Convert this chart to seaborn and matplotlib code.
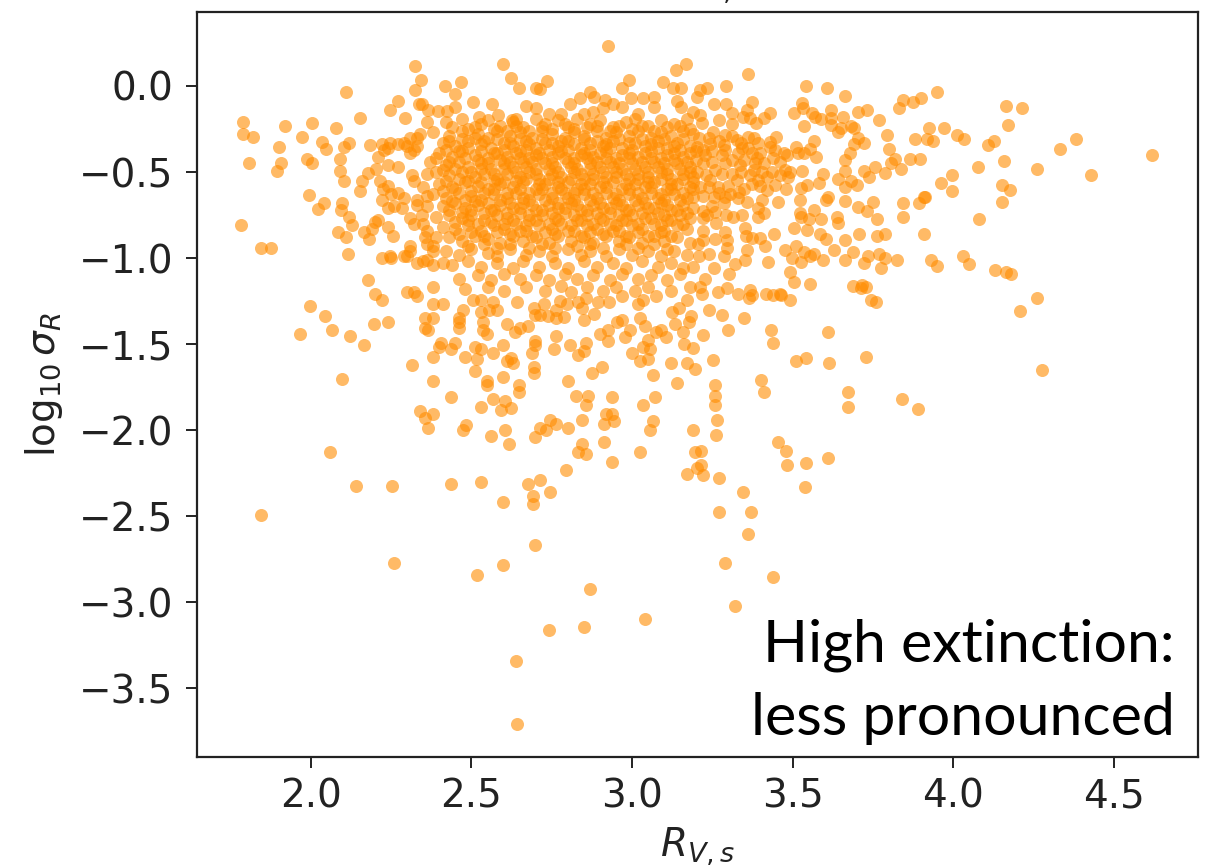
import matplotlib
matplotlib.use('Agg')
import matplotlib.pyplot as plt
import pandas as pd
import seaborn as sns

# (R_Vs, log10 sigma_R), region by region
left_pts = [(1.789,-.211),(1.787,-.28),(1.82,-.295),(1.807,-.446),(1.782,-.81),(1.844,-.94),(1.877,-.94),(1.92,-.235),
    (1.971,-.295),(1.901,-.353),(1.908,-.446),(1.895,-.494),(2.002,-.213),(2.033,-.327),(2.047,-.366),(2.077,-.246),
    (2.109,-.037),(2.153,-.188),(1.989,-.423),(2.003,-.45),(2.09,-.425),(2.09,-.494),(2.103,-.554),(2.103,-.353),
    (2.117,-.33),(1.995,-.634),(2.04,-.682),(2.021,-.717),(2.097,-.678),(2.092,-.72),(2.12,-.76),(2.128,-.81),
    (2.084,-.847),(2.109,-.88),(2.115,-.977),(2.154,-.612),(2.159,-.552),(2.178,-.506),(2.202,-.483),(2.184,-.341),
    (2.21,-.41),(2.22,-.34),(2.246,-.33),(2.27,-.34),(2.29,-.33),(2.31,-.3),(2.33,-.3),(2.34,-.28),(2.3,-.35),
    (2.32,-.37),(2.31,-.39),(2.33,-.35),(2.24,-.36),(2.226,-.37),(2.24,-.46),(2.27,-.47),(2.215,-.55),(2.225,-.6),
    (2.24,-.58),(2.22,-.66),(2.25,-.63),(2.27,-.62),(2.29,-.65),(2.26,-.7),(2.285,-.71),(2.24,-.71),(2.33,-.66),
    (2.36,-.64),(2.32,-.55),(2.315,-.52),(2.36,-.51),(2.39,-.5),(2.35,-.59),(2.33,-.69),(2.36,-.7),(2.31,-.77),
    (2.345,-.75),(2.35,-.8),(2.32,-.8),(2.36,-.84),(2.21,-.78),(2.24,-.82),(2.255,-.87),(2.19,-.83),(2.165,-.85),
    (2.18,-.89),(2.2,-.79),(2.31,-.93),(2.3,-.99),(2.31,-.96),(2.22,-1.0),(2.245,-.99),(2.25,-1.0),(2.29,-.99),
    (2.33,-1.03),(2.35,-1.02),(2.38,-1.04),(2.41,-1.03),(2.36,-1.01),(2.38,-.96),(2.38,-.93),(2.355,-.88),(2.39,-.88),
    (2.36,-.92),(2.178,-1.13),(2.2,-1.21),(2.3,-1.2),(2.32,-1.2),(2.38,-1.17)]

top_pts = [(2.323,.116),(2.342,.035),(2.323,-.023),(2.337,-.107),(2.345,-.107),(2.418,-.002),(2.468,.023),(2.449,-.048),
    (2.272,-.09),(2.246,-.14),(2.292,-.188),(2.36,-.21),(2.599,.128),(2.624,.047),(2.649,-.014),(2.7,-.014),(2.713,-.02),
    (2.734,.029),(2.926,.235),(2.97,-.012),(2.99,.035),(2.996,-.072),(3.096,.023),(3.127,-.012),(3.154,-.012),(3.136,.093),
    (3.167,.128),(2.869,-.035),(2.882,-.062),(2.838,-.072),(2.506,-.093),(2.563,-.107),(2.524,-.178),(2.45,-.12),
    (2.67,-.115),(2.7,-.13),(2.808,-.107),(2.915,-.081),(3.033,-.072),(3.07,-.062),(3.14,-.09),(3.153,-.12),(2.91,-.13),
    (2.94,-.107),(2.97,-.12),(3.02,-.16),(3.07,-.12),(2.88,-.15),(2.85,-.16),(2.74,-.165),(2.778,-.16),(2.397,-.143),
    (2.424,-.143),(2.365,-.138),(2.583,-.17),(2.625,-.2),(2.64,-.19)]

right_pts = [(3.361,.07),(3.292,-.002),(3.235,-.012),(3.212,-.023),(3.202,-.062),(3.542,-.002),(3.606,-.014),(3.662,-.06),
    (3.373,-.093),(3.256,-.107),(3.292,-.107),(3.531,-.1),(3.534,-.13),(3.505,-.156),(3.619,-.14),(3.562,-.156),(3.57,-.178),
    (3.588,-.19),(3.619,-.188),(3.619,-.224),(3.656,-.178),(3.705,-.154),(3.733,-.142),(3.769,-.2),(3.536,-.235),(3.643,-.27),
    (3.65,-.243),(3.681,-.23),(3.69,-.246),(3.794,-.284),(3.843,-.081),(3.832,-.13),(3.876,-.095),(3.901,-.072),(3.95,-.037),
    (4.165,-.118),(4.216,-.13),(4.171,-.224),(3.926,-.246),(3.971,-.246),(3.883,-.307),(3.92,-.307),(3.939,-.318),(4.013,-.284),
    (4.033,-.307),(4.109,-.341),(4.128,-.318),(4.334,-.365),(4.384,-.307),(4.62,-.4),(4.159,-.437),(4.26,-.483),(4.43,-.518),
    (4.078,-.471),(3.996,-.518),(3.964,-.565),(3.996,-.613),(4.151,-.577),(4.177,-.602),(4.151,-.672),(4.08,-.776),(3.908,-.644),
    (3.913,-.644),(3.893,-.683),(3.843,-.683),(3.843,-.764),(3.908,-.86),(4.032,-.988),(4.051,-1.034),(4.13,-1.071),(4.18,-1.094),
    (4.26,-1.235),(3.95,-1.048),(3.93,-1.01),(3.825,-1.01),(3.788,-.858),(3.762,-.872),(3.763,-.776),(3.75,-.672),(3.706,-.86),
    (3.662,-.893),(3.63,-.953),(3.688,-.965),(3.662,-1.01),(3.594,-1.01),(3.604,-.887),(3.586,-.858),(3.544,-.835),(3.505,-.823),
    (3.443,-.858),(3.736,-.988),(3.724,-1.027),(3.77,-.974),(3.788,-1.0),(3.775,-1.058),(3.475,-.953),(3.511,-.93),(3.536,-.965),
    (3.567,-.976),(3.555,-.988),(3.498,-1.0),(3.525,-1.023),(3.423,-1.025),(3.492,-1.083),(3.505,-1.14),(3.555,-1.153),(3.687,-1.165),
    (3.713,-1.176),(3.744,-1.245),(3.418,-1.21),(3.44,-1.216),(3.461,-1.21),(3.492,-1.245),(3.368,-1.184),(3.373,-1.216),(3.329,-1.21),
    (3.297,-1.176),(3.269,-1.2),(3.217,-1.21),(3.303,-1.09),(3.228,-1.12),(3.212,-1.17),(3.254,-1.058),(3.321,-1.036),(3.352,-1.013),
    (3.357,-.955),(3.415,-.93),(3.399,-.881),(3.373,-.881),(3.352,-.823),(3.354,-.873),(3.29,-.848),(3.295,-.897),(3.259,-.887),
    (3.222,-.84),(3.222,-.897),(3.207,-.916),(3.297,-.94),(3.241,-.974),(3.285,-.988),(3.21,-.99),(3.191,-1.05)]

midright_pts = [(3.525,-.595),(3.544,-.577),(3.583,-.563),(3.596,-.509),(3.643,-.542),(3.662,-.497),(3.662,-.59),(3.681,-.554),
    (3.7,-.577),(3.724,-.495),(3.738,-.53),(3.757,-.471),(3.788,-.506),(3.837,-.483),(3.806,-.448),(3.819,-.425),(3.866,-.425),
    (3.896,-.425),(3.801,-.365),(3.724,-.33),(3.705,-.305),(3.692,-.335),(3.68,-.389),(3.664,-.428),(3.568,-.318),(3.555,-.367),
    (3.537,-.389),(3.511,-.354),(3.518,-.389),(3.574,-.412),(3.531,-.495),(3.482,-.402),(3.492,-.499),(3.487,-.528),(3.48,-.596),
    (3.454,-.672),(3.524,-.66),(3.604,-.66),(3.612,-.645),(3.665,-.668),(3.705,-.703),(3.731,-.728),(3.568,-.718),(3.524,-.741),
    (3.526,-.764),(3.55,-.772),(3.588,-.776),(3.638,-.764),(3.643,-.798),(3.449,-.295),(3.43,-.156),(3.41,-.188),(3.387,-.214),
    (3.368,-.188),(3.345,-.178),(3.311,-.156),(3.311,-.222),(3.272,-.2),(3.357,-.14),(3.212,-.17),(3.191,-.15),(3.252,-.27),
    (3.361,-.295),(3.394,-.33),(3.43,-.325),(3.326,-.315),(3.29,-.285),(3.217,-.218),(3.342,-.36),(3.43,-.355),(3.446,-.373),
    (3.472,-.392),(3.373,-.39),(3.243,-.34),(3.285,-.345),(3.202,-.355),(3.228,-.402),(3.28,-.402),(3.311,-.431),(3.41,-.45),
    (3.383,-.45),(3.461,-.44),(3.337,-.46),(3.259,-.489),(3.311,-.509),(3.368,-.518),(3.404,-.499),(3.435,-.499),(3.477,-.489),
    (3.202,-.499),(3.326,-.548),(3.394,-.548),(3.446,-.573),(3.422,-.602),(3.373,-.567),(3.243,-.548),(3.212,-.587),(3.332,-.615),
    (3.29,-.645),(3.256,-.645),(3.285,-.683),(3.357,-.673),(3.404,-.66),(3.394,-.712),(3.411,-.741),(3.392,-.764),(3.342,-.751),
    (3.316,-.764),(3.293,-.751),(3.259,-.732),(3.222,-.728),(3.233,-.751),(3.261,-.798),(3.306,-.625),(3.269,-.586),(3.191,-.645)]

lower_pts = [(1.996,-1.281),(2.045,-1.339),(2.065,-1.421),(1.965,-1.444),(2.121,-1.456),(2.165,-1.504),(2.197,-1.386),(2.241,-1.374),
    (2.222,-1.246),(2.329,-1.223),(2.096,-1.704),(2.059,-2.127),(2.14,-2.327),(2.253,-2.327),(1.845,-2.492),(2.259,-2.773),(2.436,-2.315),
    (2.53,-2.303),(2.518,-2.845),(2.599,-2.785),(2.599,-2.42),(2.675,-2.315),(2.712,-2.292),(2.693,-2.385),(2.693,-2.431),(2.743,-2.362),
    (2.699,-2.668),(2.794,-2.234),(2.316,-1.62),(2.379,-1.574),(2.379,-1.714),(2.436,-1.809),(2.341,-1.89),(2.354,-1.927),
    (2.38,-1.904),(2.366,-1.985),(2.474,-1.997),(2.482,-1.968),(2.561,-2.032),(2.605,-1.997),(2.617,-2.078),(2.53,-1.867),(2.568,-1.82),
    (2.592,-1.881),(2.605,-1.832),(2.624,-1.869),(2.549,-1.716),(2.549,-1.739),(2.599,-1.692),(2.649,-1.739),(2.649,-1.776),(2.51,-1.657),
    (2.518,-1.586),(2.479,-1.574),(2.568,-1.551),(2.599,-1.504),(2.51,-1.516),(2.53,-1.527),(2.399,-1.516),(2.406,-1.493),(2.436,-1.527),
    (2.448,-1.493),(2.624,-1.582),(2.611,-1.597),(2.63,-1.609),(2.687,-1.551),(2.699,-1.504),(2.699,-1.481),(2.694,-1.632),(2.694,-1.667),
    (2.756,-1.527),(2.806,-1.504),(2.763,-1.456),(2.831,-1.562),(2.851,-1.539),(2.857,-1.496),(2.907,-1.632),(2.876,-1.667),(2.8,-1.714),
    (2.825,-1.799),(2.863,-1.799),(2.856,-1.857),(2.845,-1.939),(2.743,-1.939),(2.763,-1.962),(2.712,-1.985),(2.731,-1.997),(2.8,-1.985),
    (2.699,-2.043),(2.845,-2.078),(2.831,-2.127),(2.857,-2.139),(2.913,-2.069),(2.938,-2.185),(3.026,-2.127),(2.913,-1.962),(2.944,-1.95),
    (2.919,-1.904),(2.938,-1.904),(2.938,-1.809),(3.033,-1.857),(3.071,-1.809),(3.064,-1.681),(3.121,-1.609),(3.139,-1.727),(3.064,-1.95),
    (3.057,-1.997),(3.172,-1.609),(3.197,-1.644),(3.19,-1.997),(3.197,-2.127),(3.203,-2.22),(3.171,-2.255),(3.051,-1.586),(3.026,-1.597),
    (3.001,-1.551),(3.033,-1.516),(3.057,-1.527),(3.051,-1.477),(2.977,-1.458),(2.995,-1.421),(2.9,-1.444),(2.926,-1.421),(2.926,-1.481),
    (2.952,-1.374),(2.97,-1.363),(3.026,-1.351),(3.039,-1.397),(3.076,-1.428),(3.089,-1.421),(3.107,-1.458),(3.133,-1.386),(3.159,-1.428),
    (3.178,-1.374),(3.184,-1.339),(3.126,-1.316),(3.145,-1.293),(3.172,-1.246),(3.02,-1.269),(3.033,-1.244),(2.97,-1.223),(3.076,-1.223),
    (2.927,-1.258),(2.882,-1.328),(2.851,-1.363),(2.676,-1.397),(2.651,-1.409),(2.635,-1.432),(2.611,-1.386),(2.549,-1.444),(2.536,-1.421),
    (2.536,-1.374),(2.53,-1.316),(2.555,-1.304),(2.58,-1.304),(2.461,-1.409),(2.461,-1.374),(2.461,-1.351),(2.474,-1.304),(2.381,-1.351),
    (2.354,-1.351),(2.354,-1.409),(2.366,-1.421),(2.379,-1.269),(2.411,-1.269),(2.505,-1.246),(2.531,-1.246),(2.568,-1.258),(2.643,-1.258),
    (2.694,-1.293),(2.697,-1.331),(2.713,-1.331),(2.739,-1.337),(2.763,-1.351),(2.788,-1.341),(2.725,-1.267),(2.763,-1.302),(2.775,-1.248),
    (2.796,-1.267),(2.832,-1.254),(2.845,-1.293),(2.858,-1.234),(2.895,-1.254)]

tail_pts = [(2.87,-2.925),(2.64,-3.34),(2.642,-3.71),(2.74,-3.16),(2.85,-3.145),(3.04,-3.1),(3.32,-3.02),(3.29,-2.77),(3.44,-2.855),
    (3.27,-2.477),(3.37,-2.477),(3.345,-2.36),(3.36,-2.605),(3.27,-2.28),(3.22,-2.26),(3.456,-2.07),(3.48,-2.12),(3.484,-2.2),
    (3.54,-2.33),(3.543,-2.19),(3.61,-2.16),(3.257,-1.74),(3.257,-1.8),(3.257,-1.855),(3.266,-1.94),(3.263,-2.03),(3.216,-2.12),
    (3.216,-2.2),(3.403,-1.71),(3.412,-1.78),(3.434,-1.42),(3.44,-1.495),(3.543,-1.58),(3.512,-1.6),(3.615,-1.61),(3.73,-1.575),
    (3.674,-1.78),(3.674,-1.866),(3.84,-1.82),(3.89,-1.88),(4.276,-1.65),(4.21,-1.31),(4.165,-1.08),(3.73,-1.17),(3.76,-1.255),
    (3.715,-1.157),(3.61,-1.43),(3.465,-1.215),(3.363,-1.23),(3.253,-1.59),(3.163,-1.5),(3.28,-1.33),(3.3,-1.42),(3.24,-1.3),
    (3.22,-1.45),(3.35,-1.35),(3.19,-1.52)]

# dense middle of the cloud, band by band
core_upper = [(2.42,-.21),(2.47,-.19),(2.51,-.24),(2.55,-.2),(2.59,-.23),(2.63,-.21),(2.66,-.24),(2.7,-.19),(2.73,-.22),(2.77,-.2),
    (2.8,-.24),(2.83,-.19),(2.87,-.22),(2.9,-.2),(2.94,-.24),(2.98,-.21),(3.01,-.19),(3.05,-.23),(3.09,-.2),(3.13,-.22),(3.17,-.19),
    (2.38,-.27),(2.43,-.29),(2.47,-.26),(2.52,-.28),(2.55,-.3),(2.58,-.26),(2.62,-.29),(2.65,-.27),(2.69,-.3),(2.72,-.26),(2.75,-.28),
    (2.79,-.3),(2.82,-.27),(2.85,-.29),(2.89,-.26),(2.92,-.3),(2.95,-.27),(2.99,-.29),(3.02,-.26),(3.06,-.3),(3.09,-.27),(3.12,-.29),
    (3.16,-.26),(3.19,-.28),(2.41,-.33),(2.45,-.35),(2.49,-.32),(2.53,-.34),(2.56,-.36),(2.6,-.33),(2.63,-.35),(2.67,-.32),(2.7,-.36),
    (2.73,-.33),(2.77,-.35),(2.8,-.32),(2.84,-.36),(2.87,-.33),(2.91,-.35),(2.94,-.32),(2.97,-.36),(3.01,-.33),(3.04,-.35),(3.08,-.32),
    (3.11,-.36),(3.14,-.33),(3.18,-.35),(2.4,-.39),(2.44,-.41),(2.47,-.38),(2.51,-.4),(2.55,-.42),(2.58,-.39),(2.61,-.41),(2.65,-.38),
    (2.68,-.42),(2.71,-.39),(2.75,-.41),(2.78,-.38),(2.82,-.42),(2.85,-.39),(2.88,-.41),(2.92,-.38),(2.95,-.42),(2.99,-.39),(3.02,-.41),
    (3.06,-.38),(3.09,-.42),(3.13,-.39),(3.16,-.41),(3.2,-.38),(2.37,-.44),(2.42,-.46),(2.46,-.44),(2.49,-.47),(2.53,-.45),(2.56,-.48),
    (2.6,-.45),(2.63,-.47),(2.66,-.44),(2.7,-.48),(2.73,-.45),(2.76,-.47),(2.8,-.44),(2.83,-.48),(2.87,-.45),(2.9,-.47),(2.93,-.44),
    (2.97,-.48),(3.0,-.45),(3.04,-.47),(3.07,-.44),(3.11,-.48),(3.14,-.45),(3.18,-.47),(2.43,-.52),(2.47,-.5),(2.51,-.53),(2.54,-.51),
    (2.58,-.54),(2.61,-.51),(2.65,-.53),(2.68,-.5),(2.71,-.54),(2.75,-.51),(2.78,-.53),(2.82,-.5),(2.85,-.54),(2.88,-.51),(2.92,-.53),
    (2.95,-.5),(2.99,-.54),(3.02,-.51),(3.05,-.53),(3.09,-.5),(3.12,-.54),(3.16,-.51),(3.19,-.53)]

core_middle = [(2.4,-.57),(2.44,-.59),(2.48,-.56),(2.52,-.58),(2.55,-.6),(2.59,-.57),(2.63,-.59),(2.66,-.56),(2.7,-.6),(2.73,-.57),
    (2.77,-.59),(2.8,-.56),(2.83,-.6),(2.87,-.57),(2.9,-.59),(2.94,-.56),(2.97,-.6),(3.01,-.57),(3.04,-.59),(3.07,-.56),(3.11,-.6),
    (3.14,-.57),(3.18,-.59),(2.38,-.63),(2.42,-.65),(2.46,-.62),(2.5,-.64),(2.53,-.66),(2.57,-.63),(2.61,-.65),(2.64,-.62),(2.68,-.66),
    (2.71,-.63),(2.75,-.65),(2.79,-.62),(2.82,-.66),(2.85,-.63),(2.89,-.65),(2.92,-.62),(2.96,-.66),(2.99,-.63),(3.03,-.65),(3.06,-.62),
    (3.1,-.66),(3.13,-.63),(3.17,-.65),(2.41,-.7),(2.45,-.68),(2.48,-.71),(2.52,-.69),(2.56,-.72),(2.59,-.69),(2.63,-.71),(2.66,-.68),
    (2.7,-.72),(2.74,-.69),(2.77,-.71),(2.81,-.68),(2.84,-.72),(2.88,-.69),(2.91,-.71),(2.95,-.68),(2.98,-.72),(3.02,-.69),(3.05,-.71),
    (3.09,-.68),(3.12,-.72),(3.16,-.69),(3.19,-.71),(2.39,-.76),(2.43,-.75),(2.47,-.77),(2.5,-.75),(2.54,-.78),(2.58,-.75),(2.61,-.77),
    (2.65,-.74),(2.68,-.78),(2.72,-.75),(2.76,-.77),(2.79,-.74),(2.83,-.78),(2.86,-.75),(2.9,-.77),(2.93,-.74),(2.97,-.78),(3.0,-.75),
    (3.04,-.77),(3.08,-.74),(3.11,-.78),(3.15,-.75),(3.18,-.77),(2.41,-.82),(2.45,-.83),(2.49,-.81),(2.53,-.84),(2.57,-.81),(2.6,-.83),
    (2.64,-.8),(2.67,-.84),(2.71,-.81),(2.75,-.83),(2.78,-.8),(2.82,-.84),(2.86,-.81),(2.89,-.83),(2.93,-.8),(2.96,-.84),(3.0,-.81),
    (3.03,-.83),(3.07,-.8),(3.1,-.84),(3.14,-.81),(3.17,-.83),(2.43,-.88),(2.47,-.9),(2.51,-.87),(2.55,-.89),(2.59,-.91),(2.63,-.87),
    (2.66,-.9),(2.7,-.88),(2.74,-.91),(2.77,-.87),(2.81,-.9),(2.85,-.88),(2.88,-.91),(2.92,-.87),(2.96,-.9),(2.99,-.88),(3.03,-.91),
    (3.07,-.87),(3.1,-.9),(3.14,-.88),(3.18,-.91)]

core_lower = [(2.42,-.96),(2.46,-.98),(2.5,-.95),(2.55,-.97),(2.58,-.99),(2.62,-.95),(2.67,-.98),(2.71,-.96),(2.75,-.99),(2.8,-.95),
    (2.84,-.98),(2.87,-.96),(2.92,-.99),(2.96,-.95),(3.0,-.98),(3.05,-.96),(3.09,-.99),(3.13,-.96),(3.17,-.98),(2.44,-1.04),(2.49,-1.02),
    (2.53,-1.05),(2.58,-1.03),(2.63,-1.06),(2.66,-1.02),(2.71,-1.05),(2.76,-1.03),(2.8,-1.06),(2.85,-1.02),(2.89,-1.05),(2.94,-1.03),
    (2.98,-1.06),(3.03,-1.02),(3.08,-1.05),(3.12,-1.03),(3.16,-1.06),(2.46,-1.12),(2.52,-1.1),(2.56,-1.13),(2.6,-1.09),(2.65,-1.12),
    (2.7,-1.1),(2.74,-1.13),(2.79,-1.09),(2.83,-1.12),(2.88,-1.1),(2.93,-1.13),(2.97,-1.09),(3.02,-1.12),(3.06,-1.1),(3.11,-1.13),
    (3.15,-1.09),(2.48,-1.18),(2.55,-1.17),(2.6,-1.19),(2.67,-1.17),(2.73,-1.19),(2.78,-1.16),(2.81,-1.2),(2.86,-1.17),(2.91,-1.19),
    (2.95,-1.17),(3.01,-1.19),(3.05,-1.17),(3.12,-1.19),(3.18,-1.17)]

# where the cloud is solid orange in the reference
core_fill_a = [(2.44,-.24),(2.49,-.25),(2.53,-.22),(2.57,-.25),(2.61,-.26),(2.64,-.23),(2.68,-.26),(2.72,-.24),(2.75,-.25),(2.79,-.22),
    (2.82,-.25),(2.86,-.24),(2.89,-.23),(2.93,-.26),(2.96,-.23),(3.0,-.25),(3.03,-.23),(3.07,-.26),(3.11,-.24),(3.15,-.23),(3.18,-.25),
    (2.43,-.32),(2.47,-.31),(2.51,-.3),(2.54,-.32),(2.58,-.31),(2.62,-.33),(2.65,-.31),(2.68,-.34),(2.72,-.31),(2.75,-.33),(2.78,-.32),
    (2.82,-.34),(2.85,-.31),(2.89,-.32),(2.92,-.34),(2.96,-.31),(2.99,-.33),(3.03,-.31),(3.06,-.34),(3.1,-.31),(3.13,-.35),(3.16,-.31),
    (2.42,-.37),(2.46,-.38),(2.49,-.36),(2.53,-.38),(2.57,-.39),(2.6,-.37),(2.64,-.39),(2.67,-.37),(2.7,-.4),(2.74,-.37),(2.77,-.39),
    (2.8,-.37),(2.84,-.4),(2.87,-.37),(2.9,-.39),(2.93,-.36),(2.97,-.4),(3.0,-.37),(3.04,-.39),(3.08,-.36),(3.11,-.4),(3.15,-.37),(3.18,-.39),
    (2.39,-.42),(2.43,-.44),(2.48,-.42),(2.52,-.43),(2.55,-.45),(2.59,-.43),(2.62,-.44),(2.65,-.42),(2.69,-.44),(2.72,-.42),(2.75,-.45),
    (2.79,-.42),(2.82,-.45),(2.86,-.42),(2.89,-.44),(2.92,-.42),(2.96,-.45),(2.99,-.42),(3.03,-.44),(3.06,-.42),(3.1,-.45),(3.13,-.43),
    (3.17,-.44),(3.2,-.43),(2.41,-.49),(2.45,-.48),(2.5,-.5),(2.53,-.48),(2.57,-.51),(2.6,-.48),(2.64,-.5),(2.67,-.47),(2.7,-.51),(2.74,-.48),
    (2.77,-.5),(2.81,-.47),(2.84,-.51),(2.87,-.48),(2.91,-.5),(2.94,-.47),(2.98,-.51),(3.01,-.48),(3.05,-.5),(3.08,-.47),(3.11,-.51),
    (3.15,-.48),(3.18,-.5),(2.42,-.55),(2.46,-.54),(2.49,-.55),(2.53,-.56),(2.57,-.55),(2.6,-.56),(2.64,-.55),(2.67,-.54),(2.71,-.57),
    (2.74,-.54),(2.77,-.56),(2.81,-.54),(2.84,-.57),(2.88,-.54),(2.91,-.56),(2.95,-.53),(2.98,-.57),(3.02,-.54),(3.05,-.56),(3.09,-.54),
    (3.12,-.57),(3.16,-.54),(3.19,-.56)]

core_fill_b = [(2.41,-.61),(2.45,-.6),(2.5,-.61),(2.54,-.62),(2.57,-.6),(2.61,-.62),(2.65,-.6),(2.68,-.62),(2.72,-.6),(2.75,-.62),
    (2.78,-.6),(2.82,-.62),(2.85,-.6),(2.88,-.62),(2.92,-.59),(2.95,-.63),(2.99,-.6),(3.02,-.62),(3.06,-.59),(3.09,-.63),(3.12,-.6),
    (3.16,-.62),(3.19,-.6),(2.44,-.67),(2.48,-.66),(2.51,-.67),(2.55,-.68),(2.59,-.66),(2.62,-.68),(2.66,-.65),(2.69,-.69),(2.73,-.66),
    (2.77,-.68),(2.8,-.65),(2.83,-.69),(2.87,-.66),(2.9,-.68),(2.94,-.65),(2.97,-.69),(3.01,-.66),(3.04,-.68),(3.08,-.65),(3.11,-.69),
    (3.15,-.66),(2.43,-.72),(2.47,-.73),(2.5,-.72),(2.54,-.74),(2.57,-.72),(2.61,-.74),(2.65,-.71),(2.68,-.75),(2.72,-.72),(2.75,-.74),
    (2.79,-.71),(2.82,-.75),(2.86,-.72),(2.89,-.74),(2.93,-.71),(2.96,-.75),(2.99,-.72),(3.03,-.74),(3.07,-.71),(3.1,-.75),(3.14,-.72),
    (3.17,-.74),(2.45,-.79),(2.49,-.78),(2.52,-.8),(2.56,-.79),(2.6,-.8),(2.63,-.78),(2.67,-.81),(2.7,-.78),(2.74,-.8),(2.77,-.78),
    (2.81,-.81),(2.84,-.78),(2.88,-.8),(2.91,-.78),(2.95,-.81),(2.98,-.78),(3.02,-.8),(3.06,-.77),(3.09,-.81),(3.12,-.78),(3.16,-.8),
    (2.46,-.86),(2.5,-.85),(2.54,-.87),(2.58,-.85),(2.62,-.86),(2.65,-.84),(2.69,-.87),(2.73,-.85),(2.76,-.86),(2.8,-.84),(2.84,-.87),
    (2.87,-.85),(2.91,-.86),(2.94,-.84),(2.98,-.87),(3.02,-.85),(3.05,-.87),(3.09,-.85),(3.12,-.87),(2.49,-.93),(2.54,-.92),(2.58,-.94),
    (2.62,-.92),(2.68,-.94),(2.72,-.92),(2.76,-.94),(2.83,-.93),(2.87,-.92),(2.91,-.94),(2.98,-.92),(3.02,-.94),(3.07,-.92),(3.11,-.95),
    (3.21,-.3),(3.24,-.3),(3.27,-.32),(3.31,-.29),(3.34,-.33),(3.38,-.3),(3.22,-.37),(3.25,-.38),(3.29,-.37),(3.33,-.39),(3.36,-.36),
    (3.4,-.39),(3.22,-.45),(3.25,-.44),(3.29,-.45),(3.35,-.43),(3.39,-.42),(3.44,-.42),(3.23,-.52),(3.28,-.51),(3.34,-.5),(3.38,-.49),
    (3.42,-.53),(3.46,-.52),(3.24,-.59),(3.3,-.58),(3.35,-.6),(3.4,-.58),(3.22,-.64),(3.27,-.62),(3.33,-.65),(3.25,-.7),(3.22,-.77)]

x_ticks = [2.0, 2.5, 3.0, 3.5, 4.0, 4.5]
y_ticks = [0.0, -0.5, -1.0, -1.5, -2.0, -2.5, -3.0, -3.5]

all_pts = (left_pts + top_pts + right_pts + midright_pts + lower_pts + tail_pts
           + core_upper + core_middle + core_lower + core_fill_a + core_fill_b)
df = pd.DataFrame(all_pts, columns=['rv', 'log_sigma'])

sns.set_style('ticks')
plt.rcParams['font.family'] = ['DejaVu Sans']
plt.rcParams['axes.linewidth'] = 1.6

fig = plt.figure(figsize=(12.13, 8.68), dpi=100)
ax = fig.add_axes([197/1213, 1 - 757/868, 1001/1213, 745/868])
sns.scatterplot(data=df, x='rv', y='log_sigma', ax=ax, color='darkorange', s=88, alpha=0.6, linewidth=0)

ax.set_xlim(1.645, 4.763)
ax.set_ylim(-3.90, 0.43)
ax.set_xticks(x_ticks)
ax.set_yticks(y_ticks)
ax.tick_params(axis='both', labelsize=28, length=8, width=1.4, labelcolor='#222222', color='#222222')
ax.tick_params(axis='x', pad=7)
ax.tick_params(axis='y', pad=9)
ax.set_xlabel('$R_{V,s}$', fontsize=28, color='#222222', labelpad=7)
ax.set_ylabel(r'$\log_{10}\sigma_R$', fontsize=28, color='#222222', labelpad=10)
for side in ['top', 'right', 'left', 'bottom']:
    ax.spines[side].set_visible(True)
    ax.spines[side].set_color('#222222')

# title is cut off at the top edge of the crop
fig.text(0.589, 0.9945, '$R_{V,s}$', fontsize=28, color='#222222', ha='center', va='bottom')

ax.text(0.977, 0.0165, 'High extinction:\nless pronounced', transform=ax.transAxes, ha='right', va='bottom',
        fontsize=42.5, family='Lato', color='black', linespacing=1.45)

fig.savefig('out.png', dpi=100)
